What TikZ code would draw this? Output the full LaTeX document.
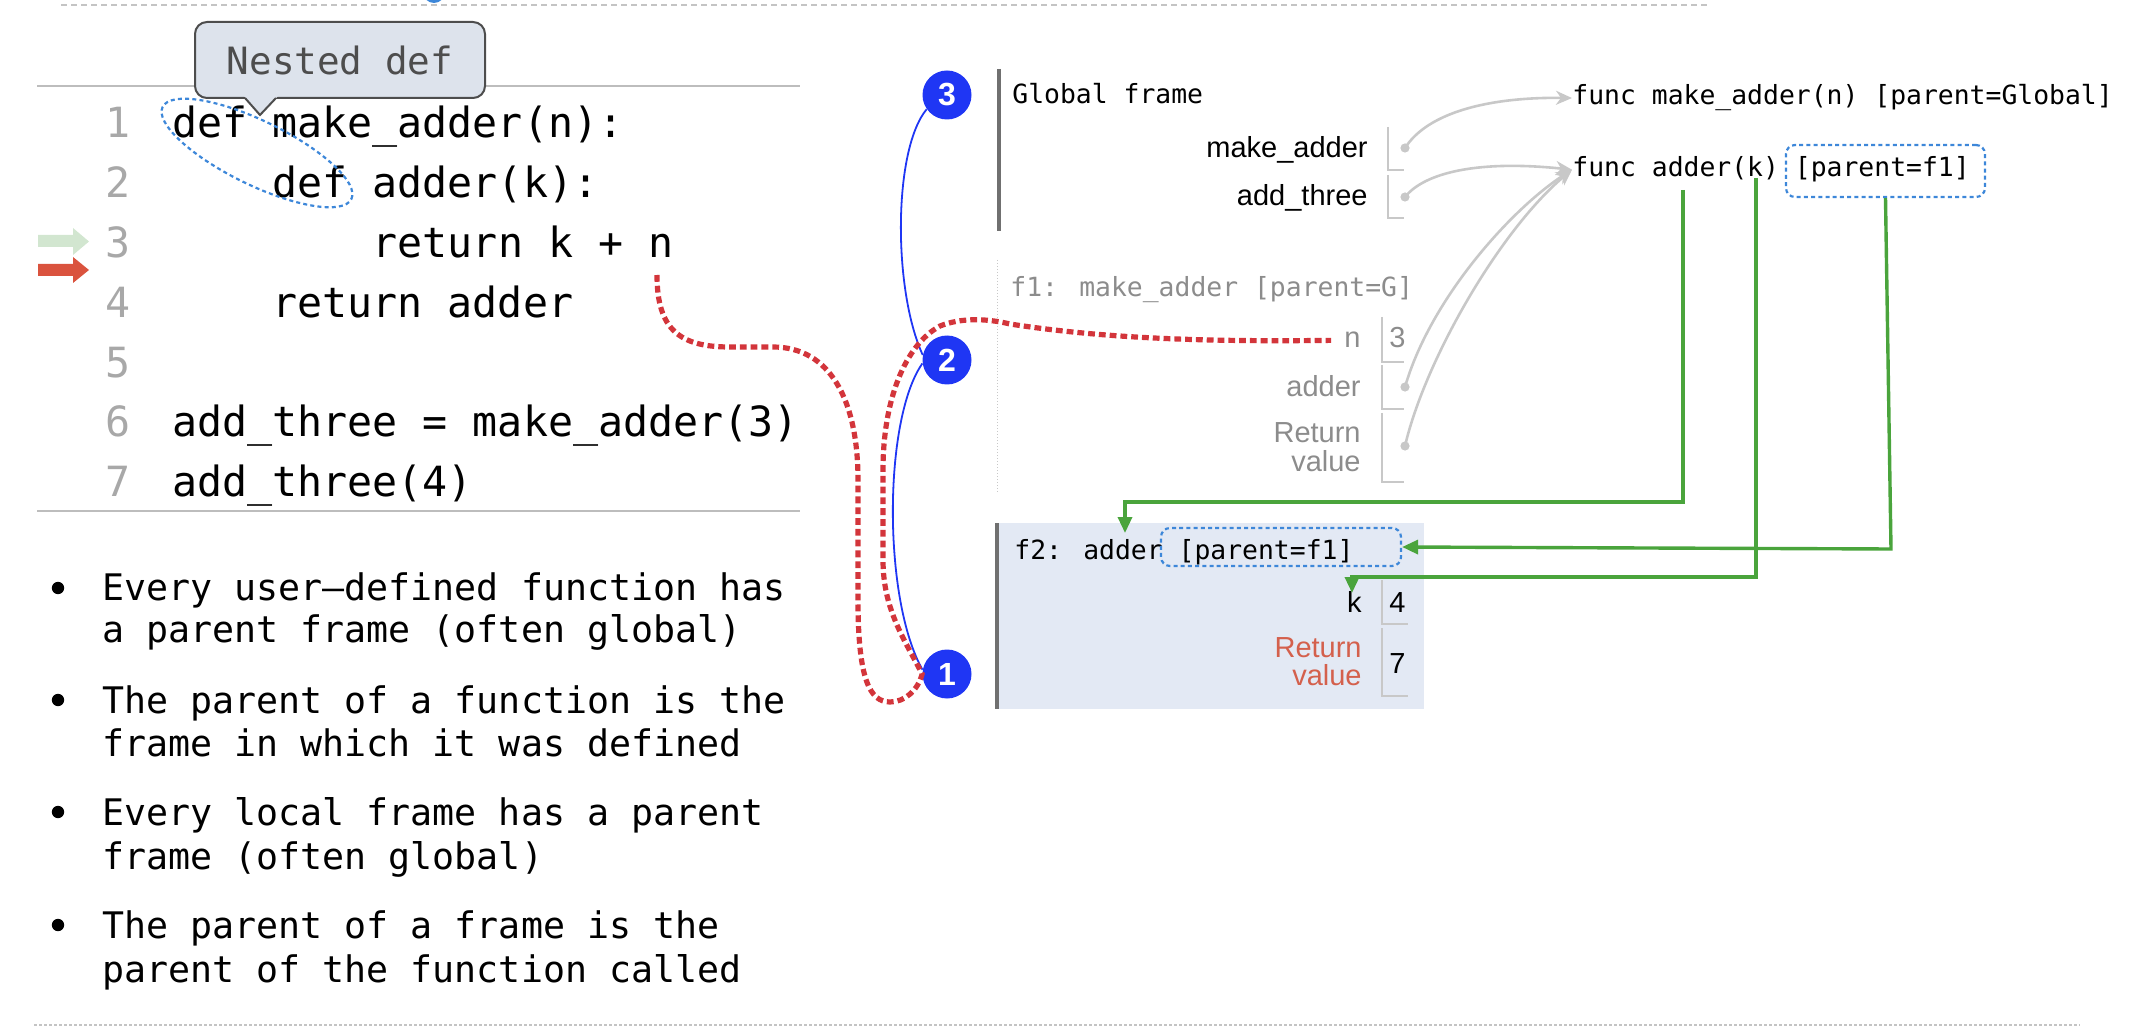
\documentclass[tikz,border=0pt]{standalone}
\usepackage{fontspec}
\usetikzlibrary{arrows.meta}
\newfontfamily\codefont{DejaVu Sans Mono}
\newfontfamily\labelfont{Liberation Sans}

\definecolor{linegray}{HTML}{A8A8A8}
\definecolor{rulegray}{HTML}{BDBDBD}
\definecolor{dashgray}{HTML}{C4C4C4}
\definecolor{framebar}{HTML}{707070}
\definecolor{fonegray}{HTML}{8C8C8C}
\definecolor{ptrgray}{HTML}{C8C8C8}
\definecolor{edgegreen}{HTML}{4AA43C}
\definecolor{tracered}{HTML}{D3353B}
\definecolor{numblue}{HTML}{1F36F4}
\definecolor{hiblue}{HTML}{3D87D9}
\definecolor{ftwobg}{HTML}{E3E9F4}
\definecolor{calloutfill}{HTML}{DDE3EC}
\definecolor{calloutborder}{HTML}{4D4D4D}
\definecolor{retred}{HTML}{D4604C}
\definecolor{curgreen}{HTML}{D2E6D0}
\definecolor{nextred}{HTML}{DA533E}

\tikzset{
  code/.style={font=\codefont\fontsize{20.8}{25}\selectfont, anchor=base west, inner sep=0pt},
  lineno/.style={code, text=linegray},
  bullettext/.style={font=\codefont\fontsize{18.3}{22}\selectfont, anchor=base west, inner sep=0pt},
  bulletdot/.style={circle, fill=black, minimum size=6.2pt, inner sep=0pt},
  frametext/.style={font=\codefont\fontsize{13.2}{16}\selectfont, anchor=base west, inner sep=0pt},
  varname/.style={font=\labelfont\fontsize{14.5}{17}\selectfont, anchor=base east, inner sep=0pt},
  varval/.style={font=\labelfont\fontsize{14.5}{17}\selectfont, anchor=base west, inner sep=0pt},
  valbox/.style={draw=ptrgray, line width=0.8pt},
  ptrdot/.style={circle, fill=ptrgray, minimum size=4.6pt, inner sep=0pt},
  ptrarrow/.style={draw=ptrgray, line width=1.3pt, -{Stealth[length=8pt, width=7pt, inset=2.5pt]}},
  greenarrow/.style={draw=edgegreen, line width=1.7pt, -{Triangle[length=8pt, width=7pt]}},
  framebarline/.style={draw=framebar, line width=1.6pt},
  numcirc/.style={circle, fill=numblue, text=white, font=\labelfont\bfseries\fontsize{16}{16}\selectfont, minimum size=24.5pt, inner sep=0pt},
  bluelink/.style={draw=numblue, line width=0.9pt},
  hidash/.style={draw=hiblue, line width=1.1pt, dash pattern=on 2pt off 1.6pt},
  parentbox/.style={hidash, rounded corners=4.5pt, inner sep=0pt},
  reddots/.style={draw=tracered, line width=2.6pt, dash pattern=on 3.4pt off 2pt},
  nestbox/.style={draw=calloutborder, fill=calloutfill, line width=1pt, rounded corners=6pt,
    minimum width=145pt, minimum height=38pt, inner sep=0pt, text=calloutborder,
    font=\codefont\fontsize{18.8}{22}\selectfont},
}

\begin{document}
\begin{tikzpicture}[x=0.5pt, y=-0.5pt]
\useasboundingbox (0,0) rectangle (2138,1032);

% page rules
\begin{scope}
  \clip (0,0) rectangle (2138,1032);
  \fill[hiblue] (434,-8) circle (5.5pt);
\end{scope}
\draw[dashgray, line width=0.7pt, dash pattern=on 3pt off 2pt] (61,5) -- (1707,5);
\draw[dashgray, line width=0.9pt, dash pattern=on 1.5pt off 1pt] (34,1025) -- (2080,1025);

% code listing
\draw[rulegray, line width=1.1pt] (37,86) -- (800,86);
\draw[rulegray, line width=1.1pt] (37,511) -- (800,511);

\node[lineno] (ln1) at (105,138.0) {1};
\node[lineno] (ln2) at (105,197.8) {2};
\node[lineno] (ln3) at (105,257.6) {3};
\node[lineno] (ln4) at (105,317.4) {4};
\node[lineno] (ln5) at (105,377.2) {5};
\node[lineno] (ln6) at (105,437.0) {6};
\node[lineno] (ln7) at (105,496.8) {7};

\node[code] (cl1) at (172.0,138.0) {def make\_adder(n):};
\node[code] (cl2) at (272.2,197.8) {def adder(k):};
\node[code] (cl3) at (372.4,257.6) {return k + n};
\node[code] (cl4) at (272.2,317.4) {return adder};
\node[code] (cl6) at (172.0,437.0) {add\_three = make\_adder(3)};
\node[code] (cl7) at (172.0,496.8) {add\_three(4)};

% current / next line markers
\fill[curgreen] (38,235) -- (73,235) -- (73,228) -- (89,241.5) -- (73,255) -- (73,247) -- (38,247) -- cycle;
\fill[nextred] (38,264) -- (73,264) -- (73,257) -- (89,270) -- (73,283) -- (73,276) -- (38,276) -- cycle;

% highlight of the two defs
\draw[hidash] (257,153) ellipse[x radius=52.5pt, y radius=16pt, rotate=-26];

% callout
\node[nestbox] (nest) at (340,60) {Nested def};
\fill[calloutfill] (244,96) -- (260,115) -- (278,96) -- cycle;
\draw[calloutborder, line width=1pt, line join=miter] (245,98) -- (260,115) -- (276,98);

% bullet list
\node[bulletdot] (b1) at (58,588) {};
\node[bullettext] (t1a) at (102,600) {Every user–defined function has};
\node[bullettext] (t1b) at (102,642) {a parent frame (often global)};
\node[bulletdot] (b2) at (58,700) {};
\node[bullettext] (t2a) at (102,713) {The parent of a function is the};
\node[bullettext] (t2b) at (102,756) {frame in which it was defined};
\node[bulletdot] (b3) at (58,812) {};
\node[bullettext] (t3a) at (102,825) {Every local frame has a parent};
\node[bullettext] (t3b) at (102,869) {frame (often global)};
\node[bulletdot] (b4) at (58,925) {};
\node[bullettext] (t4a) at (102,938) {The parent of a frame is the};
\node[bullettext] (t4b) at (102,982) {parent of the function called};

% global frame
\draw[framebarline] (999,69) -- (999,231);
\node[frametext] (gf) at (1012,104) {Global frame};
\node[varname] (vma) at (1368,158) {make\_adder};
\node[varname] (vat) at (1368,206) {add\_three};
\draw[valbox] (1388,127) -- (1388,170) -- (1404,170);
\draw[valbox] (1388,175) -- (1388,218) -- (1404,218);
\node[ptrdot] (dma) at (1405,148) {};
\node[ptrdot] (dat) at (1405,197) {};

% heap objects
\node[frametext] (fma) at (1572,105) {func make\_adder(n) [parent=Global]};
\node[frametext] (fad) at (1572,177) {func adder(k) [parent=f1]};
\node[parentbox, minimum width=99.5pt, minimum height=26pt] (pb1) at (1885.5,171) {};

% frame f1
\draw[ptrgray, line width=0.5pt, densely dotted] (997,260) -- (997,493);
\node[frametext, text=fonegray] (f1) at (1010,297) {f1: make\_adder [parent=G]};
\node[varname, text=fonegray] (fn) at (1361,348) {n};
\node[varval, text=fonegray] (fnv) at (1389,348) {3};
\draw[valbox] (1382,317) -- (1382,362) -- (1404,362);
\node[varname, text=fonegray] (fadd) at (1361,396) {adder};
\draw[valbox] (1382,365) -- (1382,409) -- (1404,409);
\node[ptrdot] (dad) at (1405,387) {};
\node[varname, text=fonegray] (frv1) at (1361,443) {Return};
\node[varname, text=fonegray] (frv2) at (1361,472) {value};
\draw[valbox] (1382,413) -- (1382,482) -- (1404,482);
\node[ptrdot] (drv) at (1405,446) {};

% frame f2
\fill[ftwobg] (997,523) rectangle (1424,709);
\draw[framebarline] (997,523) -- (997,709);
\node[frametext] (f2) at (1014,559) {f2: adder [parent=f1]};
\node[parentbox, minimum width=120pt, minimum height=19pt] (pb2) at (1281,547) {};
\node[varname] (fk) at (1362,612) {k};
\node[varval] (fkv) at (1389,612) {4};
\draw[valbox] (1382,580) -- (1382,624) -- (1408,624);
\node[varname, text=retred] (rv1) at (1362,657) {Return};
\node[varname, text=retred] (rv2) at (1362,685) {value};
\node[varval] (rvv) at (1389,673) {7};
\draw[valbox] (1382,628) -- (1382,696) -- (1408,696);

% pointers into the heap
\draw[ptrarrow] (dma.center) .. controls (1428,112) and (1490,97) .. (fma.west);
\draw[ptrarrow] (dat.center) .. controls (1425,172) and (1480,160) .. (fad.west);
\draw[ptrarrow] (dad.center) .. controls (1430,300) and (1510,210) .. (fad.west);
\draw[ptrarrow] (drv.center) .. controls (1425,360) and (1500,230) .. (fad.west);

% parent links of f2
\coordinate (gA) at (1683,190);
\coordinate (gB) at (1756,178);
\coordinate (f2name) at (1125,533);
\coordinate (kname) at (1352,593);
\draw[greenarrow] (gA) -- (1683,502) -- (1125,502) -- (f2name);
\draw[greenarrow] (pb1.south) -- (1891,549) -- (pb2.east);
\draw[greenarrow] (gB) -- (1756,577) -- (1352,577) -- (kname);

% step markers
\node[numcirc] (c3) at (947,95) {3};
\node[numcirc] (c2) at (947,360) {2};
\node[numcirc] (c1) at (947,674) {1};
\draw[bluelink] (c3.215) .. controls (893,150) and (893,290) .. (c2.168);
\draw[bluelink] (c2.188) .. controls (883,420) and (883,600) .. (c1.170);

% lookup of n
\coordinate (nuse) at (657,275);
\draw[reddots, shorten >=6.5pt] (nuse) .. controls (657,330) and (680,347) .. (730,347)
  -- (773,347)
  .. controls (830,347) and (858,400) .. (858,480)
  -- (858,600)
  .. controls (858,680) and (870,702) .. (890,702)
  .. controls (905,702) and (918,690) .. (c1.west)
  .. controls (905,640) and (883,610) .. (883,560)
  -- (883,470)
  .. controls (883,400) and (905,345) .. (940,326)
  .. controls (960,318) and (985,318) .. (1010,324)
  .. controls (1100,338) and (1200,342) .. (fn.west);
\end{tikzpicture}
\end{document}
